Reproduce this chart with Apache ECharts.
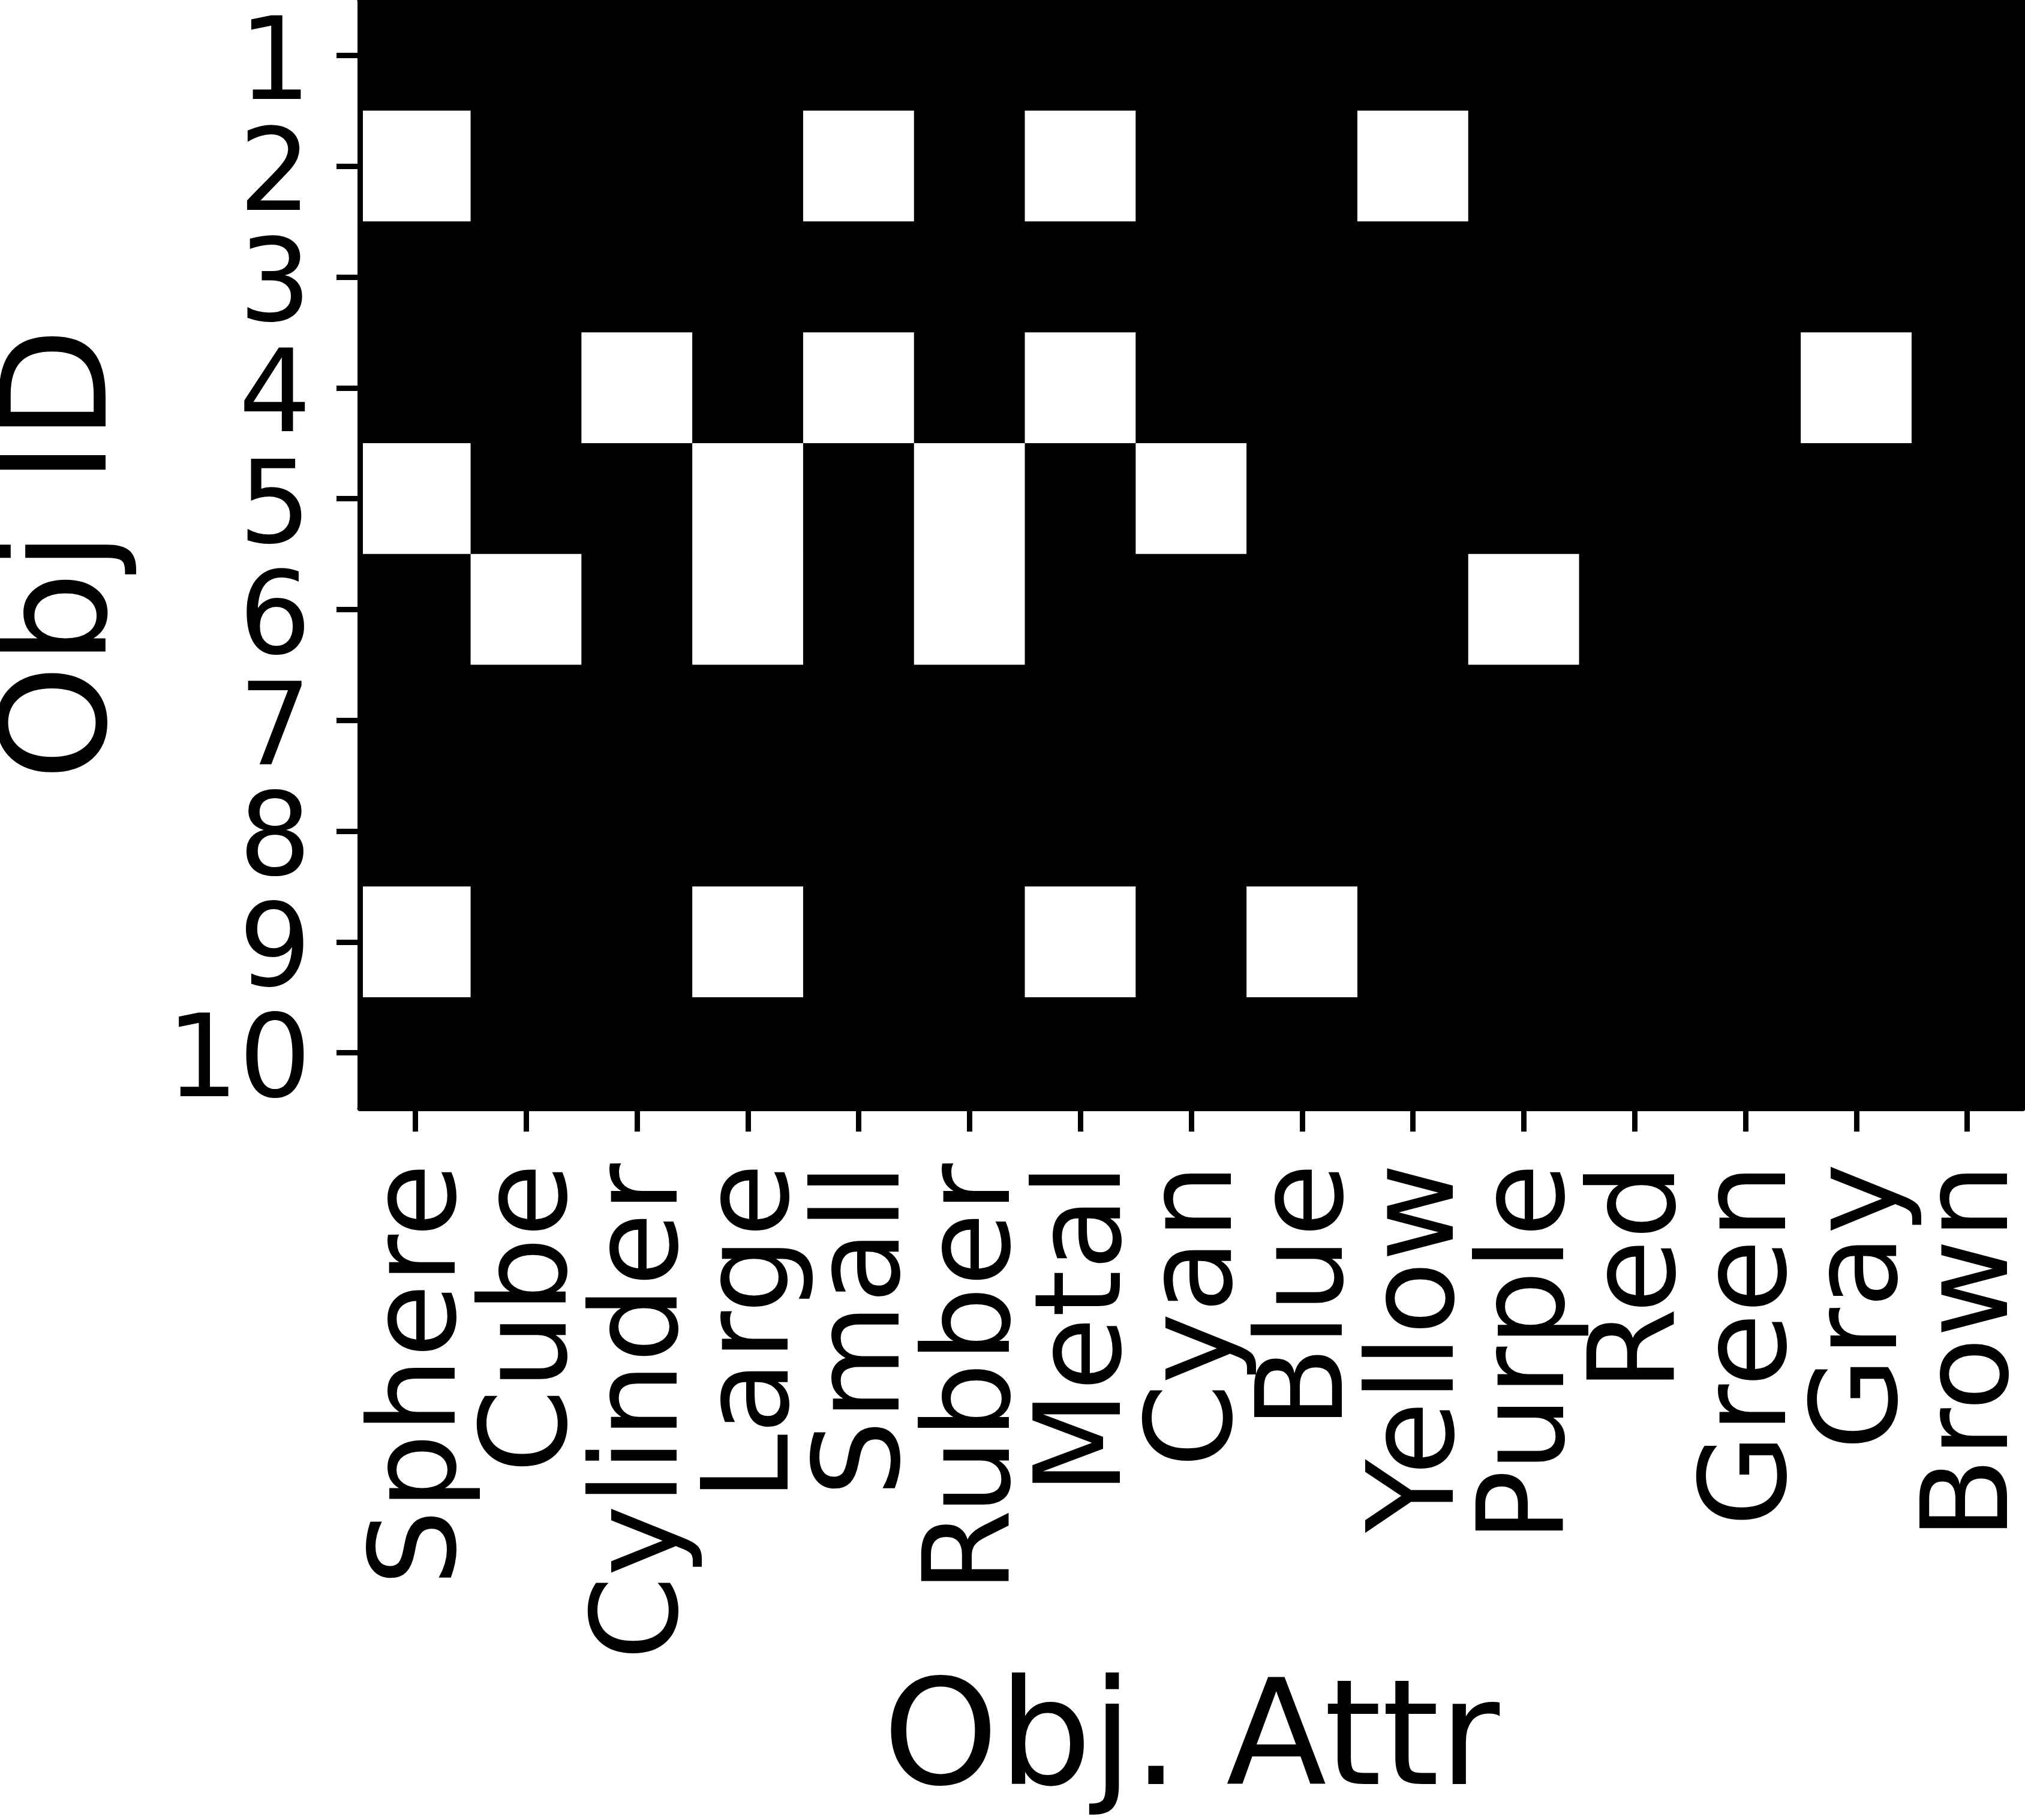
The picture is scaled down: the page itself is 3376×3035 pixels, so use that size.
<!DOCTYPE html>
<html>
<head>
<meta charset="utf-8">
<script src="https://cdn.jsdelivr.net/npm/echarts@6/dist/echarts.min.js"></script>
<style>
html,body{margin:0;padding:0;background:#fff;}
#chart{width:3376px;height:3035px;}
</style>
</head>
<body>
<div id="chart"></div>
<script>
// Attribute categories (x axis)
const attrs = ['Sphere','Cube','Cylinder','Large','Small','Rubber','Metal','Cyan','Blue','Yellow','Purple','Red','Green','Gray','Brown'];
// Object IDs (y axis tick labels)
const objIds = ['1','2','3','4','5','6','7','8','9','10'];
// One row per object: 1 = attribute present (white), 0 = absent (black)
const obj1  = [0,0,0,0,0,0,0,0,0,0,0,0,0,0,0];
const obj2  = [1,0,0,0,1,0,1,0,0,1,0,0,0,0,0];
const obj3  = [0,0,0,0,0,0,0,0,0,0,0,0,0,0,0];
const obj4  = [0,0,1,0,1,0,1,0,0,0,0,0,0,1,0];
const obj5  = [1,0,0,1,0,1,0,1,0,0,0,0,0,0,0];
const obj6  = [0,1,0,1,0,1,0,0,0,0,1,0,0,0,0];
const obj7  = [0,0,0,0,0,0,0,0,0,0,0,0,0,0,0];
const obj8  = [0,0,0,0,0,0,0,0,0,0,0,0,0,0,0];
const obj9  = [1,0,0,1,0,0,1,0,1,0,0,0,0,0,0];
const obj10 = [0,0,0,0,0,0,0,0,0,0,0,0,0,0,0];
const rows = [obj1,obj2,obj3,obj4,obj5,obj6,obj7,obj8,obj9,obj10];

const cells = [];
rows.forEach((row, yi) => row.forEach((v, xi) => cells.push([xi, yi, v])));

const FONT = 'DejaVu Sans';
const spine = {show: true, lineStyle: {color: '#000', width: 9}};
const chart = echarts.init(document.getElementById('chart'), null, {renderer: 'canvas'});
chart.setOption({
  animation: false,
  backgroundColor: '#fff',
  grid: {
    left: 600, top: 0, width: 2772, height: 1848,
    containLabel: false, outerBoundsMode: 'none',
    show: true, backgroundColor: '#000', borderWidth: 0
  },
  xAxis: [{
    type: 'category', data: attrs, position: 'bottom',
    name: 'Obj. Attr', nameLocation: 'middle', nameGap: 941,
    nameTextStyle: {fontFamily: FONT, fontSize: 245, color: '#000'},
    axisLine: spine,
    axisTick: {show: true, alignWithLabel: true, length: 39, lineStyle: {color: '#000', width: 9}},
    axisLabel: {rotate: 90, margin: 92, fontFamily: FONT, fontSize: 200, color: '#000', interval: 0, hideOverlap: false, verticalAlign: 'top', lineHeight: 28},
    splitLine: {show: false}, z: 10
  }, {
    type: 'category', data: attrs, position: 'top',
    axisLine: spine, axisTick: {show: false}, axisLabel: {show: false}, splitLine: {show: false}, z: 10
  }],
  yAxis: [{
    type: 'category', data: objIds, inverse: true, position: 'left',
    name: 'Obj ID', nameLocation: 'middle', nameGap: 365,
    nameTextStyle: {fontFamily: FONT, fontSize: 245, color: '#000'},
    axisLine: spine,
    axisTick: {show: true, alignWithLabel: true, length: 39, lineStyle: {color: '#000', width: 9}},
    axisLabel: {margin: 81, fontFamily: FONT, fontSize: 190, color: '#000', interval: 0, hideOverlap: false, verticalAlign: 'top', lineHeight: 46},
    splitLine: {show: false}, z: 10
  }, {
    type: 'category', data: objIds, inverse: true, position: 'right',
    axisLine: spine, axisTick: {show: false}, axisLabel: {show: false}, splitLine: {show: false}, z: 10
  }],
  visualMap: {
    show: false, type: 'piecewise', dimension: 2,
    pieces: [{value: 0, color: '#000'}, {value: 1, color: '#fff'}]
  },
  series: [{
    type: 'heatmap', data: cells, xAxisIndex: 0, yAxisIndex: 0,
    itemStyle: {borderWidth: 0},
    emphasis: {disabled: true}
  }]
});
</script>
</body>
</html>
